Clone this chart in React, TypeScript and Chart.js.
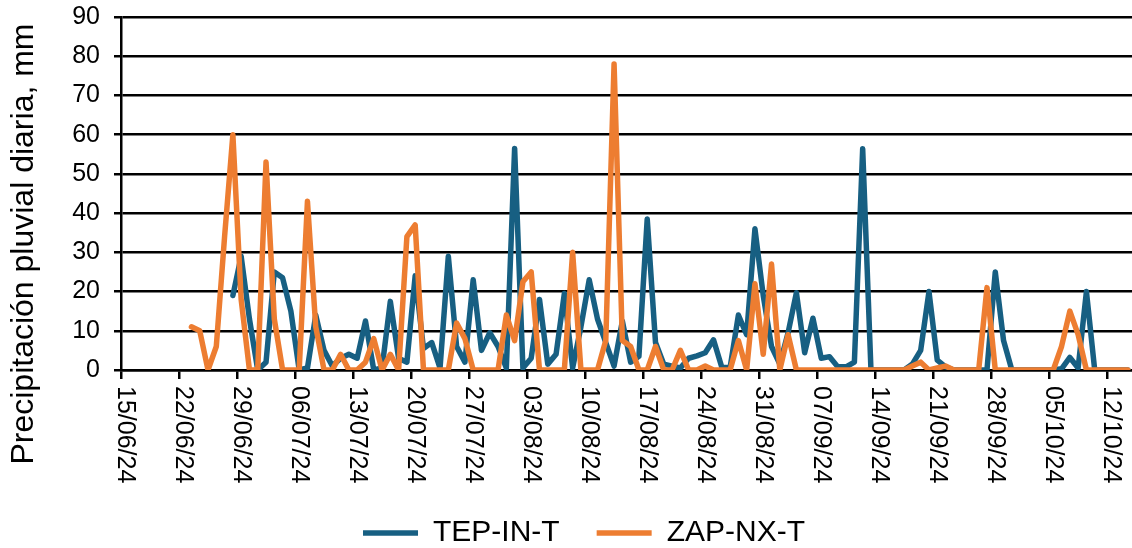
import { useEffect, useRef } from 'react';
import { Chart, registerables } from 'chart.js';

Chart.register(...registerables);

const FONT = '"Liberation Sans", Arial, Helvetica, sans-serif';

// Week tick labels (every 7 days starting 15/06/24)
const tickLabels = [
  '15/06/24', '22/06/24', '29/06/24', '06/07/24', '13/07/24', '20/07/24',
  '27/07/24', '03/08/24', '10/08/24', '17/08/24', '24/08/24', '31/08/24',
  '07/09/24', '14/09/24', '21/09/24', '28/09/24', '05/10/24', '12/10/24',
];
const tickStep = 7;
const dayCount = 122; // 15/06/24 .. 14/10/24

const seriesNames = ['TEP-IN-T', 'ZAP-NX-T'];
const yTitle = 'Precipitación pluvial diaria, mm';

// Daily rainfall, one row per week starting 15/06/24
const tepInT = [
  null, null, null, null, null, null, null,
  null, null, null, null, null, null, 19,
  29, 13, 0, 2, 25, 23.5, 15,
  0, 0.5, 14, 5, 1, 3, 4,
  3, 12.5, 0, 0.5, 17.5, 3, 2,
  24, 5.5, 7, 0.5, 29, 6, 2,
  23, 5, 9.5, 6, 0.5, 56.5, 0.5,
  3, 18, 1.5, 4, 19.5, 0.5, 11,
  23, 13, 7, 1, 12.5, 2, 3.5,
  38.5, 7, 1.5, 1, 0.5, 3, 3.6,
  4.4, 7.7, 0.7, 0.6, 14, 9, 36,
  19, 6, 1.5, 9.5, 19.7, 4.4, 13.2,
  3, 3.4, 0.8, 0.8, 2, 56.4, 0,
  0, 0, 0, 0, 1.5, 5, 20,
  2.5, 0.8, 0, 0, 0, 0, 0,
  25, 7.5, 0, 0, 0, 0, 0,
  0, 0.3, 3.2, 0.5, 20, 0, 0,
  0, 0, 0,
];

const zapNxT = [
  null, null, null, null, null, null, null,
  null, 11, 10, 0, 6, 34, 60,
  18, 0, 0, 53, 13, 0, 0,
  0, 43, 11, 0, 0, 4, 0,
  0, 2, 8, 0, 4, 0, 34,
  37, 0, 0, 0, 0, 12, 8,
  0, 0, 0, 0, 14, 7.5, 22.5,
  25, 0, 0, 0, 0, 30, 0,
  0, 0, 7.5, 78, 7.5, 6, 0,
  0, 6, 0, 0, 5, 0, 0,
  1, 0, 0, 0, 7.5, 0, 22,
  4, 27, 0, 9, 0, 0, 0,
  0, 0, 0, 0, 0, 0, 0,
  0, 0, 0, 0, 1, 2, 0,
  0.5, 1, 0, 0, 0, 0, 21,
  0, 0, 0, 0, 0, 0, 0,
  0, 6, 15, 9, 0, 0, 0,
  0, 0, 0,
];

const BLUE = '#175F82';
const ORANGE = '#ED7D31';

const toPoints = (vals: (number | null)[]) => vals.map((v, i) => ({ x: i + 0.5, y: v }));

const textPlugin = {
  id: 'axisText',
  afterDraw(chart: any) {
    const { ctx, chartArea } = chart;
    const xs = chart.scales.x;
    ctx.save();
    ctx.fillStyle = '#000';
    ctx.font = `25px ${FONT}`;
    ctx.textAlign = 'left';
    ctx.textBaseline = 'middle';
    xs.ticks.forEach((t: any) => {
      const label = tickLabels[Math.round(t.value / tickStep)];
      if (!label) return;
      const px = xs.getPixelForValue(t.value);
      ctx.save();
      ctx.translate(px + 4, chartArea.bottom + 16);
      ctx.rotate(Math.PI / 2);
      ctx.fillText(label, 0, 0);
      ctx.restore();
    });
    ctx.font = `32px ${FONT}`;
    ctx.textAlign = 'center';
    ctx.translate(24, 244);
    ctx.rotate(-Math.PI / 2);
    ctx.fillText(yTitle, 0, 0);
    ctx.restore();
  },
};

export default function App() {
  const ref = useRef<HTMLCanvasElement | null>(null);
  useEffect(() => {
    if (!ref.current) return;
    const chart = new Chart(ref.current, {
      type: 'line',
      data: {
        datasets: [
          {
            label: seriesNames[0],
            data: toPoints(tepInT),
            borderColor: BLUE,
            backgroundColor: BLUE,
            borderWidth: 5.5,
            pointRadius: 0,
            tension: 0,
            borderJoinStyle: 'round',
            borderCapStyle: 'round',
            order: 2,
          },
          {
            label: seriesNames[1],
            data: toPoints(zapNxT),
            borderColor: ORANGE,
            backgroundColor: ORANGE,
            borderWidth: 5.5,
            pointRadius: 0,
            tension: 0,
            borderJoinStyle: 'round',
            borderCapStyle: 'round',
            order: 1,
          },
        ],
      } as any,
      options: {
        animation: false,
        responsive: false,
        layout: { padding: { top: 17, left: 36, right: 0, bottom: 0 } },
        plugins: {
          tooltip: { enabled: false },
          legend: {
            position: 'bottom',
            align: 'center',
            labels: {
              usePointStyle: true,
              pointStyle: 'line',
              pointStyleWidth: 55,
              color: '#000',
              font: { size: 30, family: FONT },
              padding: 37,
              sort: (a: any, b: any) => a.datasetIndex - b.datasetIndex,
            },
          },
        },
        scales: {
          x: {
            type: 'linear',
            min: 0,
            max: dayCount,
            afterFit: (s: any) => { s.height = 111; s.paddingLeft = 0; s.paddingRight = 0; },
            ticks: { display: false, stepSize: tickStep, includeBounds: false },
            grid: { drawOnChartArea: false, drawTicks: true, tickLength: 9, color: '#000', lineWidth: 2.5 },
            border: { color: '#000', width: 2.5 },
          },
          y: {
            min: 0,
            max: 90,
            afterFit: (s: any) => { s.width = 85; s.paddingTop = 0; s.paddingBottom = 0; },
            ticks: { stepSize: 10, color: '#000', font: { size: 25, family: FONT }, padding: 14 },
            grid: { color: '#000', lineWidth: 2.5, tickLength: 7 },
            border: { color: '#000', width: 2.5 },
          },
        },
      } as any,
      plugins: [textPlugin],
    });
    return () => chart.destroy();
  }, []);
  return (
    <div style={{ position: 'fixed', left: 0, top: 0, width: 1132, height: 548, overflow: 'hidden', background: '#fff' }}>
      <canvas ref={ref} width={1132} height={558} style={{ display: 'block' }} />
    </div>
  );
}
